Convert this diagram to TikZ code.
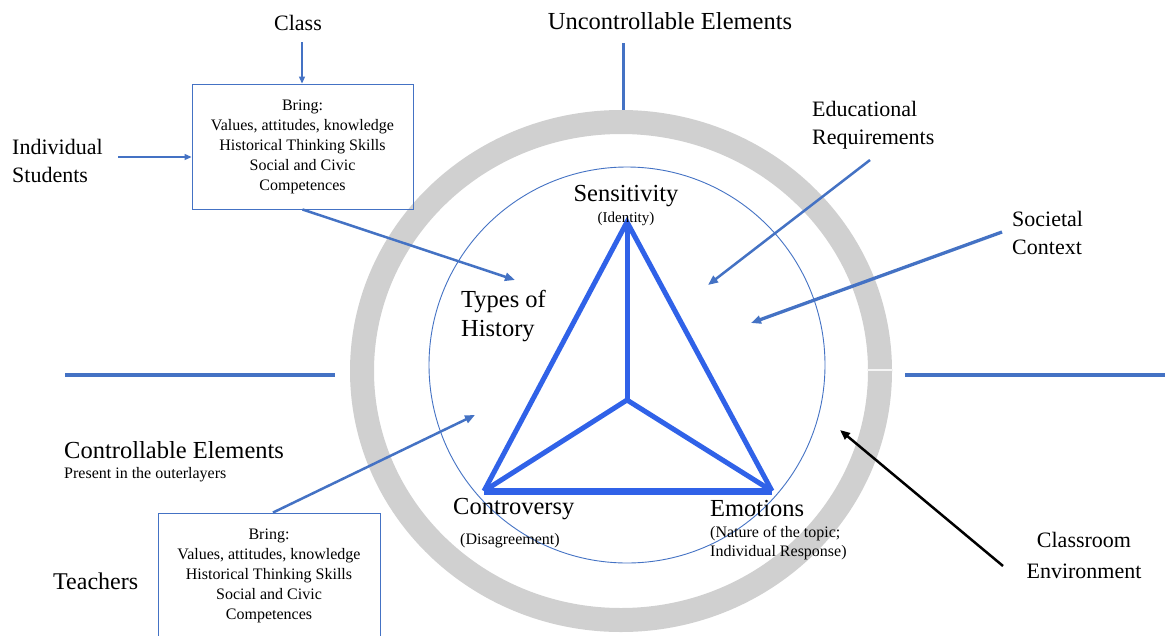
\documentclass[tikz,border=0pt]{standalone}
\usepackage{fontspec}
\setmainfont{LiberationSerif}[Extension=.ttf,UprightFont=*-Regular,BoldFont=*-Bold,ItalicFont=*-Italic,BoldItalicFont=*-BoldItalic]
\usetikzlibrary{arrows.meta}
\definecolor{linkblue}{RGB}{68,114,196}
\definecolor{triblue}{RGB}{48,98,232}
\definecolor{ringgray}{RGB}{208,208,208}
\begin{document}
\begin{tikzpicture}[x=1pt,y=-1pt,
  big/.style={font=\fontsize{24.5}{29}\selectfont, inner sep=0pt},
  mid/.style={font=\fontsize{22}{28}\selectfont, inner sep=0pt},
  small/.style={font=\fontsize{16}{20}\selectfont, inner sep=0pt},
  lbox/.style={draw=linkblue, line width=0.9pt, inner sep=0pt},
  thinarrow/.style={draw=linkblue, line width=1.2pt, -{Triangle[length=7pt,width=6pt]}},
  thickarrow/.style={draw=linkblue, line width=2.5pt, -{Triangle[length=10pt,width=8pt]}},
  blackarrow/.style={draw=black, line width=2.5pt, -{Triangle[length=10pt,width=8pt]}},
  divider/.style={draw=linkblue, line width=4pt},
  tri/.style={draw=triblue, line width=5pt, line join=miter}]
\useasboundingbox (0,0) rectangle (1165,635);
\clip (0,0) rectangle (1165,635);
\fill[white] (0,0) rectangle (1165,635);

% outer ring and inner circle
\draw[ringgray, line width=24pt] (621,371) ellipse [x radius=259, y radius=249];
\draw[white!92!gray, line width=1.2pt] (867,370) -- (893,370);
\draw[linkblue, line width=0.9pt] (627,365) circle [radius=198];

% dividers
\coordinate (uncA) at (623,43);
\coordinate (uncB) at (623,110);
\draw[draw=linkblue, line width=3pt] (uncA) -- (uncB);
\coordinate (leftA) at (65,375);
\coordinate (leftB) at (335,375);
\draw[divider] (leftA) -- (leftB);
\coordinate (rightA) at (905,375);
\coordinate (rightB) at (1165,375);
\draw[divider] (rightA) -- (rightB);

% triangle
\coordinate (apex) at (627,222);
\coordinate (bl) at (484,491);
\coordinate (br) at (772,491);
\coordinate (mid) at (627,400);
\draw[tri] (bl) -- (apex) -- (br);
\draw[draw=triblue, line width=7pt] (bl) -- (br);
\draw[tri] (apex) -- (mid);
\draw[tri] (bl) -- (mid) -- (br);

% labels
\node[big] (unc) at (670,21) {Uncontrollable Elements};
\node[mid] (class) at (298,23) {Class};
\node[mid, anchor=west, align=left] (indiv) at (12,161) {Individual\\Students};
\node[mid, anchor=west, align=left] (educ) at (812,125) {Educational\\Requirements};
\node[mid, anchor=west, align=left] (soc) at (1012,233) {Societal\\Context};
\node[big] (sens) at (626,196) {Sensitivity};
\node[font=\fontsize{15}{18}\selectfont, inner sep=0pt] (ident) at (626,219) {(Identity)};
\node[big, anchor=west, align=left] (types) at (461,316) {Types of\\History};
\node[big, anchor=west] (contro) at (453,509) {Controversy};
\node[small, anchor=west] (disag) at (460,541) {(Disagreement)};
\node[big, anchor=west] (emo) at (710,509) {Emotions};
\node[small, anchor=west, align=left, font=\fontsize{16}{19.5}\selectfont] (nature) at (710,543) {(Nature of the topic;\\Individual Response)};
\node[big, anchor=west] (ctrl) at (64,450) {Controllable Elements};
\node[small, anchor=west] (present) at (64,475) {Present in the outerlayers};
\node[big, anchor=west, font=\fontsize{24}{29}\selectfont] (teach) at (53,581) {Teachers};
\node[mid, align=center, font=\fontsize{22}{31}\selectfont] (classroom) at (1084,555) {Classroom\\Environment};

% boxes
\node[lbox, small, minimum width=221pt, minimum height=125pt, align=center] (sbox) at (302.5,146.5)
  {Bring:\\Values, attitudes, knowledge\\Historical Thinking Skills\\Social and Civic\\Competences};
\node[lbox, minimum width=222pt, minimum height=150pt] (tbox) at (269,588) {};
\node[small, align=center] (ttext) at (269,576)
  {Bring:\\Values, attitudes, knowledge\\Historical Thinking Skills\\Social and Civic\\Competences};

% connectors
\coordinate (classtail) at (302,42);
\draw[thinarrow] (classtail) -- (classtail |- sbox.north);
\coordinate (indivtail) at (118,157);
\draw[thinarrow] (indivtail) -- (indivtail -| sbox.west);
\coordinate (typestip) at (515,280);
\draw[thickarrow] (sbox.south) -- (typestip);
\coordinate (eductail) at (870,160);
\coordinate (eductip) at (708,285);
\draw[thickarrow] (eductail) -- (eductip);
\coordinate (soctail) at (1002,232);
\coordinate (soctip) at (751,323);
\draw[thickarrow, line width=3.3pt] (soctail) -- (soctip);
\coordinate (teachtip) at (475,415);
\draw[thickarrow] ([xshift=4pt]tbox.north) -- (teachtip);
\coordinate (envtail) at (1003,566);
\coordinate (envtip) at (840,430);
\draw[blackarrow] (envtail) -- (envtip);
\end{tikzpicture}
\end{document}
